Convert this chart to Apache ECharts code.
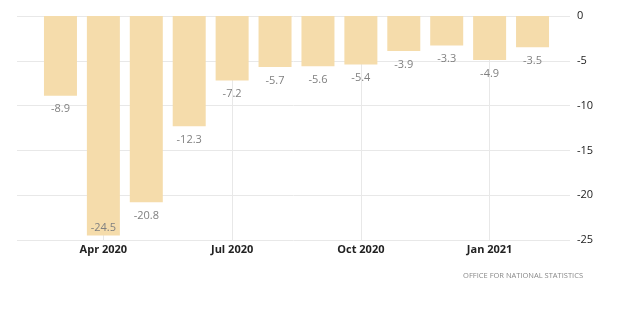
<!DOCTYPE html>
<html><head><meta charset="utf-8">
<script src="https://cdn.jsdelivr.net/npm/echarts@6/dist/echarts.min.js"></script>
<style>html,body{margin:0;padding:0;background:#fff}#c{width:620px;height:313px}</style>
</head><body><div id="c"></div>
<script>
const categories = ['Mar 2020','Apr 2020','May 2020','Jun 2020','Jul 2020','Aug 2020','Sep 2020','Oct 2020','Nov 2020','Dec 2020','Jan 2021','Feb 2021'];
const values = [-8.9, -24.5, -20.8, -12.3, -7.2, -5.7, -5.6, -5.4, -3.9, -3.3, -4.9, -3.5];
const yTicks = [0, -5, -10, -15, -20, -25];
const sourceText = 'OFFICE FOR NATIONAL STATISTICS';

const font = '"Open Sans", "Noto Sans", sans-serif';
const chart = echarts.init(document.getElementById('c'), null, {renderer: 'canvas'});
const showIdx = (i) => i % 3 === 1;
chart.setOption({
  animation: false,
  grid: [
    {left: 17, right: 50, top: 16, bottom: 73},
    {left: 39, right: 66, top: 16, bottom: 73}
  ],
  xAxis: [
    {gridIndex: 0, type: 'value', min: 0, max: 1, show: false},
    {gridIndex: 1, type: 'category', data: categories,
     axisLine: {show: false}, axisTick: {show: false},
     axisLabel: {interval: (i) => showIdx(i), color: '#222', fontSize: 11, fontWeight: 'bold', fontFamily: font, margin: 4},
     splitLine: {show: true, alignWithLabel: true, interval: (i) => showIdx(i), lineStyle: {color: '#e8e8e8', width: 1}}
    }
  ],
  yAxis: [
    {gridIndex: 0, type: 'value', position: 'right', min: yTicks[yTicks.length-1], max: yTicks[0], interval: 5,
     axisLine: {show: false}, axisTick: {show: false},
     axisLabel: {color: '#222', fontSize: 11, fontFamily: font, margin: 7},
     splitLine: {show: true, lineStyle: {color: '#e8e8e8', width: 1}}
    },
    {gridIndex: 1, type: 'value', min: yTicks[yTicks.length-1], max: yTicks[0], interval: 5, show: false, splitLine: {show: false}}
  ],
  series: [{
    type: 'bar', xAxisIndex: 1, yAxisIndex: 1, barWidth: 33,
    itemStyle: {color: '#F5DCAB'},
    label: {show: true, position: 'bottom', distance: 8, color: '#808080', fontSize: 11, fontFamily: font},
    data: values.map((v, i) => i === 1 ? {value: v, label: {position: 'insideBottom', distance: 2}} : v)
  }],
  graphic: [{
    type: 'text', right: 37, top: 272,
    style: {text: sourceText, fill: '#888', font: '7.5px ' + font}
  }]
});
</script></body></html>
